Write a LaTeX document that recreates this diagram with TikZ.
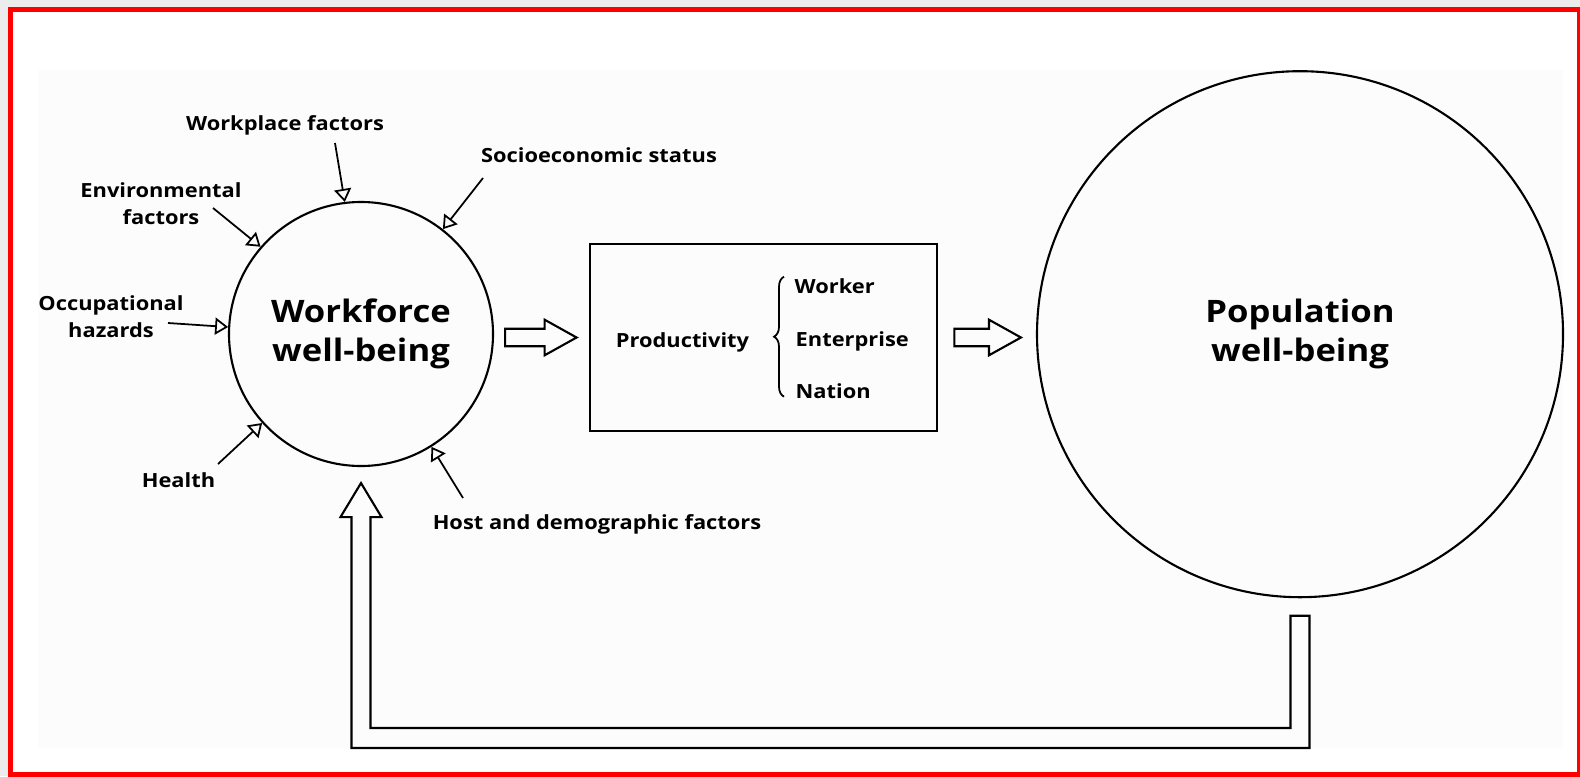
\documentclass[tikz,border=0pt]{standalone}
\usepackage{fontspec}
\setmainfont{Open Sans}[FakeStretch=1.12]
\usepackage{tikz}
\usetikzlibrary{arrows.meta,calc,decorations.pathreplacing}

\definecolor{framegray}{HTML}{ECECEC}
\definecolor{panelgray}{HTML}{FCFCFC}

% hollow block arrow, tip on the right
\newcommand{\blockarrow}[2]{%
    \draw [line width=0.6pt] let \p1=(#1), \p2=(#2) in
        (\x1,\y1+0.087cm) -- (\x2-0.32cm,\y1+0.087cm) -- (\x2-0.32cm,\y1+0.178cm)
        -- (\x2,\y1) -- (\x2-0.32cm,\y1-0.178cm) -- (\x2-0.32cm,\y1-0.087cm)
        -- (\x1,\y1-0.087cm) -- cycle;}

\begin{document}
\begin{tikzpicture}[
    small/.style={font=\bfseries\fontsize{5.55}{7.7}\selectfont, inner sep=0pt},
    big/.style={font=\bfseries\fontsize{8.8}{11.1}\selectfont, align=center},
    inarrow/.style={line width=0.5pt, -{Triangle[open, length=0.13cm, width=0.17cm]}}]
    \useasboundingbox (0,0) rectangle (15.8,7.76);
    \fill [framegray] (0,0) rectangle (15.8,7.76);
    \draw [red, line width=0.05cm, fill=white] (0.105,0.02) rectangle (15.795,7.665);
    \fill [panelgray] (0.38,0.28) rectangle (15.63,7.06);
%    \draw[step=1cm,gray!50!white,very thin,dashed] (0,0) grid (15.8,7.76);

    \node [circle, draw, line width=0.6pt, minimum size=2.64cm, big] (wf) at (3.61,4.42) {Workforce\\well-being};
    \node [circle, draw, line width=0.6pt, minimum size=5.26cm, big] (pop) at (13.0,4.418) {Population\\well-being};
    \node [draw, line width=0.8pt, minimum width=3.47cm, minimum height=1.87cm] (prod) at (7.635,4.385) {};

    \node [small, anchor=base] (wpf) at (2.85,6.45) {Workplace factors};
    \node [small, align=center] (env) at (1.61,5.72) {Environmental\\factors};
    \node [small, anchor=base] (ses) at (5.99,6.14) {Socioeconomic status};
    \node [small, align=center] (occ) at (1.11,4.59) {Occupational\\hazards};
    \node [small, anchor=base] (hlth) at (1.785,2.89) {Health};
    \node [small, anchor=base] (hdf) at (5.97,2.47) {Host and demographic factors};

    \node [small, anchor=base] (pty) at (6.825,4.29) {Productivity};
    \node [small, anchor=base west] (wkr) at (7.94,4.827) {Worker};
    \node [small, anchor=base west] (ent) at (7.95,4.293) {Enterprise};
    \node [small, anchor=base west] (nat) at (7.95,3.777) {Nation};
    \draw [decorate, decoration={brace, amplitude=0.1cm}, line width=0.5pt] (7.84,3.793) -- (7.84,4.993);

    \foreach \a/\x/\y in {97.8/3.35/6.33, 139.6/2.13/5.68, 52.1/4.83/5.98, 177/1.68/4.53, 222.8/2.18/3.12, 302.2/4.63/2.78}
        \draw [inarrow] (\x,\y) -- (wf.\a);

    \blockarrow{$(wf.east |- prod.west)+(0.11,0)$}{$(prod.west)+(-0.12,0)$}
    \blockarrow{$(prod.east)+(0.16,0)$}{$(pop.west |- prod.east)+(-0.15,0)$}

    \draw [line width=0.6pt] let \p1=($(wf.south)+(0,-0.16)$), \p2=($(pop.south)+(0,-0.175)$) in
        (\x1-0.095cm,0.28cm) -- (\x1-0.095cm,\y1-0.34cm) -- (\x1-0.205cm,\y1-0.34cm) -- (\x1,\y1)
        -- (\x1+0.205cm,\y1-0.34cm) -- (\x1+0.095cm,\y1-0.34cm) -- (\x1+0.095cm,0.48cm)
        -- (\x2-0.095cm,0.48cm) -- (\x2-0.095cm,\y2) -- (\x2+0.095cm,\y2) -- (\x2+0.095cm,0.28cm) -- cycle;
\end{tikzpicture}
\end{document}
